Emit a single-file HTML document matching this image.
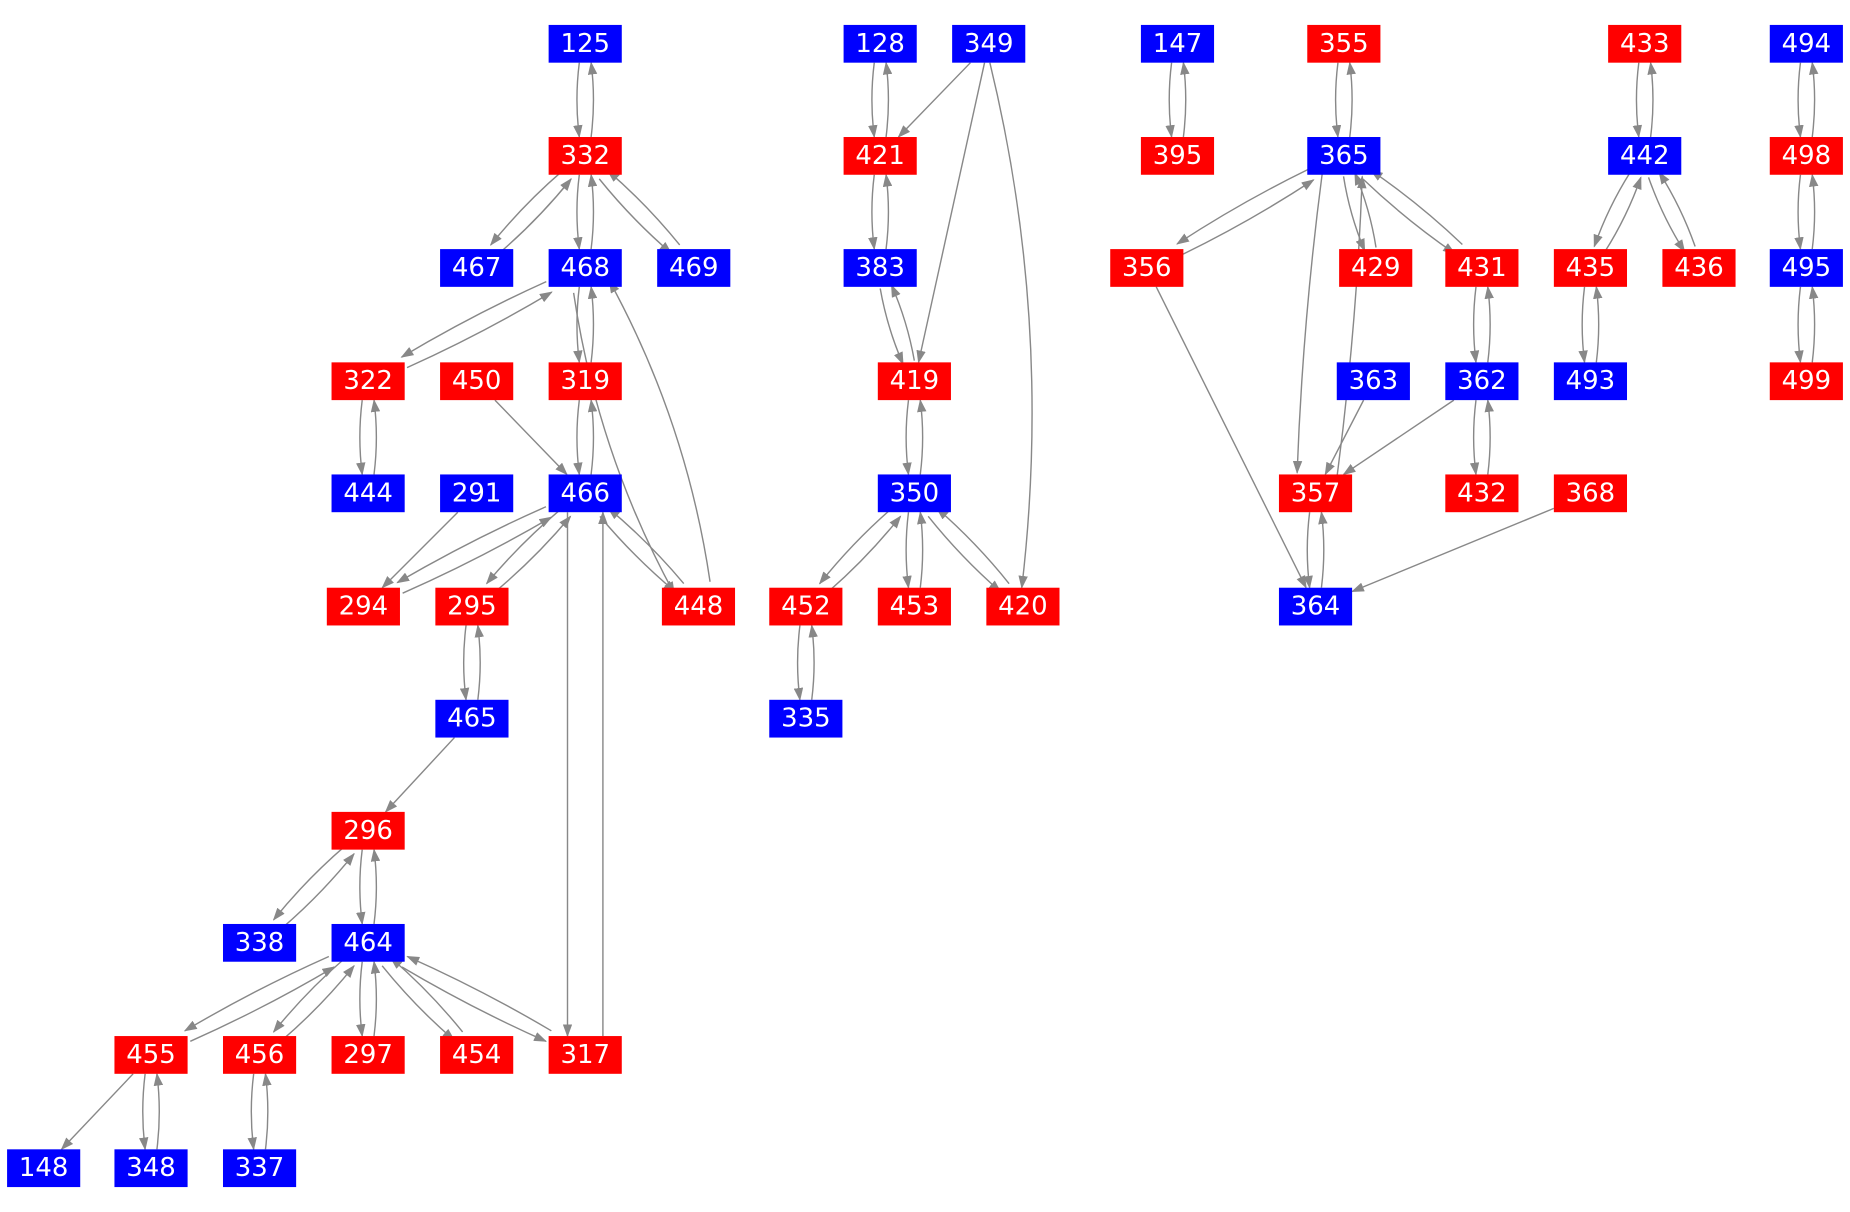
<!DOCTYPE html>
<html><head><meta charset="utf-8"><style>
html,body{margin:0;padding:0;background:#fff;}
svg{display:block;}
text{font-family:"DejaVu Sans","Liberation Sans",sans-serif;font-size:22px;fill:#fff;text-anchor:middle;dominant-baseline:central;}
</style></head><body>
<svg id="s" width="1850" height="1212" viewBox="0 0 1568 1027" xmlns="http://www.w3.org/2000/svg">
<defs><marker id="ar" markerUnits="userSpaceOnUse" markerWidth="11" markerHeight="8" refX="10" refY="4" orient="auto"><path d="M0,0 L11,4 L0,8 z" fill="#888"/></marker></defs>
<g id="edges" fill="none" stroke="#888" stroke-width="1.2"></g>
<g id="nodes">
<rect x="465" y="21" width="62" height="32" fill="#00f"/><text x="496" y="37">125</text>
<rect x="465" y="116" width="62" height="32" fill="#f00"/><text x="496" y="132">332</text>
<rect x="373" y="211" width="62" height="32" fill="#00f"/><text x="404" y="227">467</text>
<rect x="465" y="211" width="62" height="32" fill="#00f"/><text x="496" y="227">468</text>
<rect x="557" y="211" width="62" height="32" fill="#00f"/><text x="588" y="227">469</text>
<rect x="281" y="307" width="62" height="32" fill="#f00"/><text x="312" y="323">322</text>
<rect x="373" y="307" width="62" height="32" fill="#f00"/><text x="404" y="323">450</text>
<rect x="465" y="307" width="62" height="32" fill="#f00"/><text x="496" y="323">319</text>
<rect x="281" y="402" width="62" height="32" fill="#00f"/><text x="312" y="418">444</text>
<rect x="373" y="402" width="62" height="32" fill="#00f"/><text x="404" y="418">291</text>
<rect x="465" y="402" width="62" height="32" fill="#00f"/><text x="496" y="418">466</text>
<rect x="277" y="498" width="62" height="32" fill="#f00"/><text x="308" y="514">294</text>
<rect x="369" y="498" width="62" height="32" fill="#f00"/><text x="400" y="514">295</text>
<rect x="561" y="498" width="62" height="32" fill="#f00"/><text x="592" y="514">448</text>
<rect x="369" y="593" width="62" height="32" fill="#00f"/><text x="400" y="609">465</text>
<rect x="281" y="688" width="62" height="32" fill="#f00"/><text x="312" y="704">296</text>
<rect x="189" y="783" width="62" height="32" fill="#00f"/><text x="220" y="799">338</text>
<rect x="281" y="783" width="62" height="32" fill="#00f"/><text x="312" y="799">464</text>
<rect x="97" y="878" width="62" height="32" fill="#f00"/><text x="128" y="894">455</text>
<rect x="189" y="878" width="62" height="32" fill="#f00"/><text x="220" y="894">456</text>
<rect x="281" y="878" width="62" height="32" fill="#f00"/><text x="312" y="894">297</text>
<rect x="373" y="878" width="62" height="32" fill="#f00"/><text x="404" y="894">454</text>
<rect x="465" y="878" width="62" height="32" fill="#f00"/><text x="496" y="894">317</text>
<rect x="6" y="974" width="62" height="32" fill="#00f"/><text x="37" y="990">148</text>
<rect x="97" y="974" width="62" height="32" fill="#00f"/><text x="128" y="990">348</text>
<rect x="189" y="974" width="62" height="32" fill="#00f"/><text x="220" y="990">337</text>
<rect x="715" y="21" width="62" height="32" fill="#00f"/><text x="746" y="37">128</text>
<rect x="807" y="21" width="62" height="32" fill="#00f"/><text x="838" y="37">349</text>
<rect x="715" y="116" width="62" height="32" fill="#f00"/><text x="746" y="132">421</text>
<rect x="715" y="211" width="62" height="32" fill="#00f"/><text x="746" y="227">383</text>
<rect x="744" y="307" width="62" height="32" fill="#f00"/><text x="775" y="323">419</text>
<rect x="744" y="402" width="62" height="32" fill="#00f"/><text x="775" y="418">350</text>
<rect x="652" y="498" width="62" height="32" fill="#f00"/><text x="683" y="514">452</text>
<rect x="744" y="498" width="62" height="32" fill="#f00"/><text x="775" y="514">453</text>
<rect x="836" y="498" width="62" height="32" fill="#f00"/><text x="867" y="514">420</text>
<rect x="652" y="593" width="62" height="32" fill="#00f"/><text x="683" y="609">335</text>
<rect x="967" y="21" width="62" height="32" fill="#00f"/><text x="998" y="37">147</text>
<rect x="967" y="116" width="62" height="32" fill="#f00"/><text x="998" y="132">395</text>
<rect x="1108" y="21" width="62" height="32" fill="#f00"/><text x="1139" y="37">355</text>
<rect x="1108" y="116" width="62" height="32" fill="#00f"/><text x="1139" y="132">365</text>
<rect x="941" y="211" width="62" height="32" fill="#f00"/><text x="972" y="227">356</text>
<rect x="1135" y="211" width="62" height="32" fill="#f00"/><text x="1166" y="227">429</text>
<rect x="1225" y="211" width="62" height="32" fill="#f00"/><text x="1256" y="227">431</text>
<rect x="1133" y="307" width="62" height="32" fill="#00f"/><text x="1164" y="323">363</text>
<rect x="1225" y="307" width="62" height="32" fill="#00f"/><text x="1256" y="323">362</text>
<rect x="1084" y="402" width="62" height="32" fill="#f00"/><text x="1115" y="418">357</text>
<rect x="1225" y="402" width="62" height="32" fill="#f00"/><text x="1256" y="418">432</text>
<rect x="1317" y="402" width="62" height="32" fill="#f00"/><text x="1348" y="418">368</text>
<rect x="1084" y="498" width="62" height="32" fill="#00f"/><text x="1115" y="514">364</text>
<rect x="1363" y="21" width="62" height="32" fill="#f00"/><text x="1394" y="37">433</text>
<rect x="1363" y="116" width="62" height="32" fill="#00f"/><text x="1394" y="132">442</text>
<rect x="1317" y="211" width="62" height="32" fill="#f00"/><text x="1348" y="227">435</text>
<rect x="1409" y="211" width="62" height="32" fill="#f00"/><text x="1440" y="227">436</text>
<rect x="1317" y="307" width="62" height="32" fill="#00f"/><text x="1348" y="323">493</text>
<rect x="1500" y="21" width="62" height="32" fill="#00f"/><text x="1531" y="37">494</text>
<rect x="1500" y="116" width="62" height="32" fill="#f00"/><text x="1531" y="132">498</text>
<rect x="1500" y="211" width="62" height="32" fill="#00f"/><text x="1531" y="227">495</text>
<rect x="1500" y="307" width="62" height="32" fill="#f00"/><text x="1531" y="323">499</text>
</g>
</svg>
<script>
var N={125:[496,37],332:[496,132],467:[404,227],468:[496,227],469:[588,227],322:[312,323],450:[404,323],319:[496,323],444:[312,418],291:[404,418],466:[496,418],294:[308,514],295:[400,514],448:[592,514],465:[400,609],296:[312,704],338:[220,799],464:[312,799],455:[128,894],456:[220,894],297:[312,894],454:[404,894],317:[496,894],148:[37,990],348:[128,990],337:[220,990],128:[746,37],349:[838,37],421:[746,132],383:[746,227],419:[775,323],350:[775,418],452:[683,514],453:[775,514],420:[867,514],335:[683,609],147:[998,37],395:[998,132],355:[1139,37],365:[1139,132],356:[972,227],429:[1166,227],431:[1256,227],363:[1164,323],362:[1256,323],357:[1115,418],432:[1256,418],368:[1348,418],364:[1115,514],433:[1394,37],442:[1394,132],435:[1348,227],436:[1440,227],493:[1348,323],494:[1531,37],498:[1531,132],495:[1531,227],499:[1531,323]};
var B=[[125,332],[332,467],[332,468],[332,469],[468,322],[468,319],[322,444],[319,466],[466,294],[466,295],[466,448],[295,465],[296,338],[296,464],[464,455],[464,456],[464,297],[464,454],[464,317],[455,348],[456,337],[128,421],[421,383],[383,419],[419,350],[350,452],[350,453],[350,420],[452,335],[147,395],[355,365],[365,356],[365,429],[365,431],[431,362],[362,432],[357,364],[433,442],[442,435],[442,436],[435,493],[494,498],[498,495],[495,499]];
var U=[[450,466],[291,294],[465,296],[455,148],[349,421],[349,419],[356,364],[363,357],[362,357],[368,364]];
var L=[[468,448,16,24],[466,317,15,0],[365,357,17,6],[349,420,0,-40]];
var g=document.getElementById('edges');
function clip(c,dx,dy){var t=Math.min(dx?31/Math.abs(dx):1e9,dy?16/Math.abs(dy):1e9);return [c[0]+dx*t,c[1]+dy*t];}
function edge(a,b,off,bow){var A=N[a],Bn=N[b];var dx=Bn[0]-A[0],dy=Bn[1]-A[1],l=Math.hypot(dx,dy);var nx=-dy/l,ny=dx/l;
var p=clip(A,dx,dy),q=clip(Bn,-dx,-dy);p=[p[0]+nx*off,p[1]+ny*off];q=[q[0]+nx*off,q[1]+ny*off];
var mx=(p[0]+q[0])/2+nx*bow,my=(p[1]+q[1])/2+ny*bow;
var e=document.createElementNS('http://www.w3.org/2000/svg','path');e.setAttribute('d','M'+p[0]+','+p[1]+' Q'+mx+','+my+' '+q[0]+','+q[1]);e.setAttribute('marker-end','url(#ar)');g.appendChild(e);}
B.forEach(function(x){edge(x[0],x[1],5,4);edge(x[1],x[0],5,4);});
U.forEach(function(x){edge(x[0],x[1],0,0);});
L.forEach(function(x){if(x[2]){edge(x[0],x[1],x[2],x[3]);edge(x[1],x[0],x[2],x[3]);}else edge(x[0],x[1],0,x[3]);});
</script>
</body></html>
